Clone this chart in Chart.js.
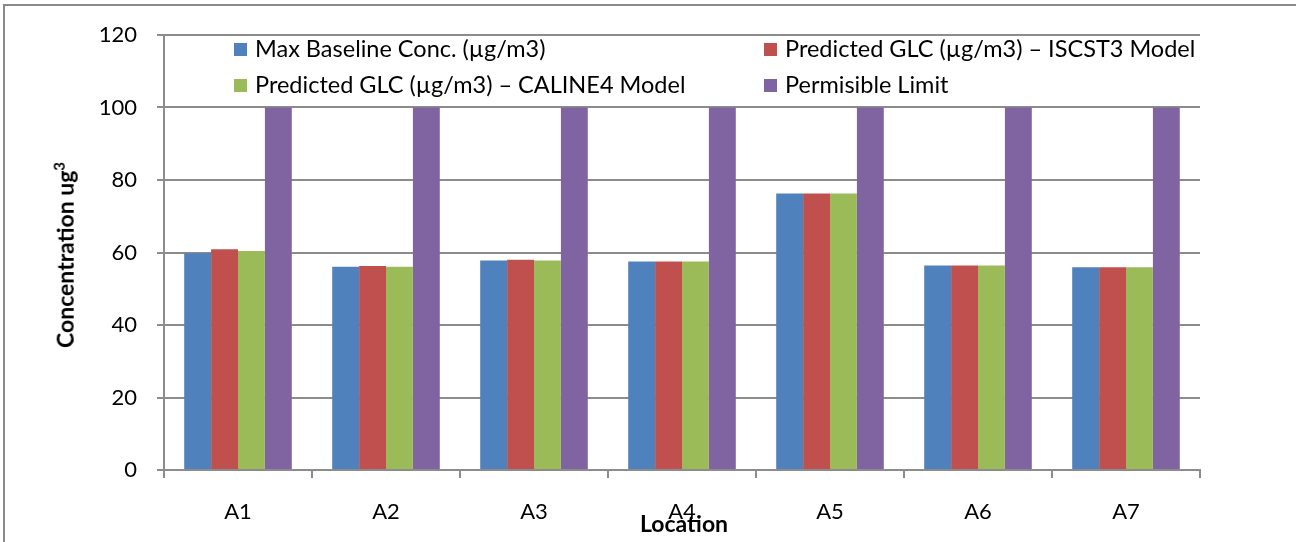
<!DOCTYPE html>
<html>
<head>
<meta charset="utf-8">
<script src="https://cdn.jsdelivr.net/npm/chart.js@4/dist/chart.umd.min.js"></script>
<style>
  html, body { margin: 0; padding: 0; background: #fff; }
  #wrap { position: relative; width: 1296px; height: 542px; overflow: hidden; font-family: Lato, "Open Sans", sans-serif; }
  #frame { position: absolute; left: 3px; top: 4px; width: 1400px; height: 700px; border-top: 2px solid #8a8a8a; border-left: 2px solid #8a8a8a; box-sizing: border-box; }
  canvas { position: absolute; left: 0; top: 0; }
  .leg { position: absolute; font-size: 23.5px; color: #000; white-space: nowrap; line-height: 24px; }
  .leg span.box { display: inline-block; width: 13px; height: 13px; margin-right: 8px; vertical-align: 1px; }
  #ytitle { position: absolute; left: 64px; top: 255px; transform: translate(-50%, -50%) rotate(-90deg); font-size: 23px; font-weight: bold; white-space: nowrap; }
  #xtitle { position: absolute; left: 684px; top: 523px; transform: translate(-50%, -50%); font-size: 23px; font-weight: bold; white-space: nowrap; }
</style>
</head>
<body>
<div id="wrap">
  <div id="frame"></div>
  <canvas id="c" width="1296" height="542"></canvas>
  <div id="legend"></div>
  <div id="ytitle">Concentration ug<sup style="font-size:15px">3</sup></div>
  <div id="xtitle">Location</div>
</div>
<script>
const categories = ["A1", "A2", "A3", "A4", "A5", "A6", "A7"];
const seriesNames = [
  "Max Baseline Conc. (µg/m3)",
  "Predicted GLC (µg/m3) – ISCST3 Model",
  "Predicted GLC (µg/m3) – CALINE4 Model",
  "Permisible Limit"
];
const maxBaseline = [59.8, 56.1, 57.8, 57.5, 76.3, 56.4, 55.9];
const iscst3 = [60.9, 56.3, 58.0, 57.5, 76.3, 56.4, 55.9];
const caline4 = [60.4, 56.1, 57.8, 57.5, 76.3, 56.4, 55.9];
const permissible = [100, 100, 100, 100, 100, 100, 100];
const yTicks = [0, 20, 40, 60, 80, 100, 120];

const colors = ["#4F81BD", "#C0504D", "#9BBB59", "#8064A2"];
const values = [maxBaseline, iscst3, caline4, permissible];

// legend (HTML, two columns): row1 = series 0 & 1, row2 = series 2 & 3
const legPos = [[234, 36], [764, 36], [234, 72], [764, 72]];
const legend = document.getElementById('legend');
seriesNames.forEach((name, i) => {
  const d = document.createElement('div');
  d.className = 'leg';
  d.style.left = legPos[i][0] + 'px';
  d.style.top = legPos[i][1] + 'px';
  d.innerHTML = '<span class="box" style="background:' + colors[i] + '"></span>' + name;
  legend.appendChild(d);
});
const grid = '#8c8c8c';

new Chart(document.getElementById('c'), {
  type: 'bar',
  data: {
    labels: categories,
    datasets: values.map((v, i) => ({
      label: seriesNames[i],
      data: v,
      backgroundColor: colors[i],
      borderWidth: 0,
      categoryPercentage: 0.727,
      barPercentage: 1.0
    }))
  },
  options: {
    responsive: false,
    animation: false,
    devicePixelRatio: 1,
    layout: { padding: { top: 35, right: 96, left: 0, bottom: 0 } },
    plugins: { legend: { display: false }, tooltip: { enabled: false }, title: { display: false } },
    scales: {
      x: {
        afterFit: (s) => { s.height = 72; },
        grid: { display: true, offset: true, drawOnChartArea: false, drawTicks: true, tickLength: 8, color: grid, lineWidth: 2 },
        border: { display: true, color: grid, width: 2 },
        ticks: { color: '#000', font: { family: 'Lato', size: 22 }, padding: 21 }
      },
      y: {
        min: 0, max: 120,
        afterFit: (s) => { s.width = 164; },
        afterBuildTicks: (s) => { s.ticks = yTicks.map(v => ({ value: v })); },
        grid: { color: grid, lineWidth: 2, tickLength: 7, drawTicks: true },
        border: { display: true, color: grid, width: 2 },
        ticks: { color: '#000', font: { family: 'Lato', size: 22 }, padding: 20 }
      }
    }
  }
});
</script>
</body>
</html>
